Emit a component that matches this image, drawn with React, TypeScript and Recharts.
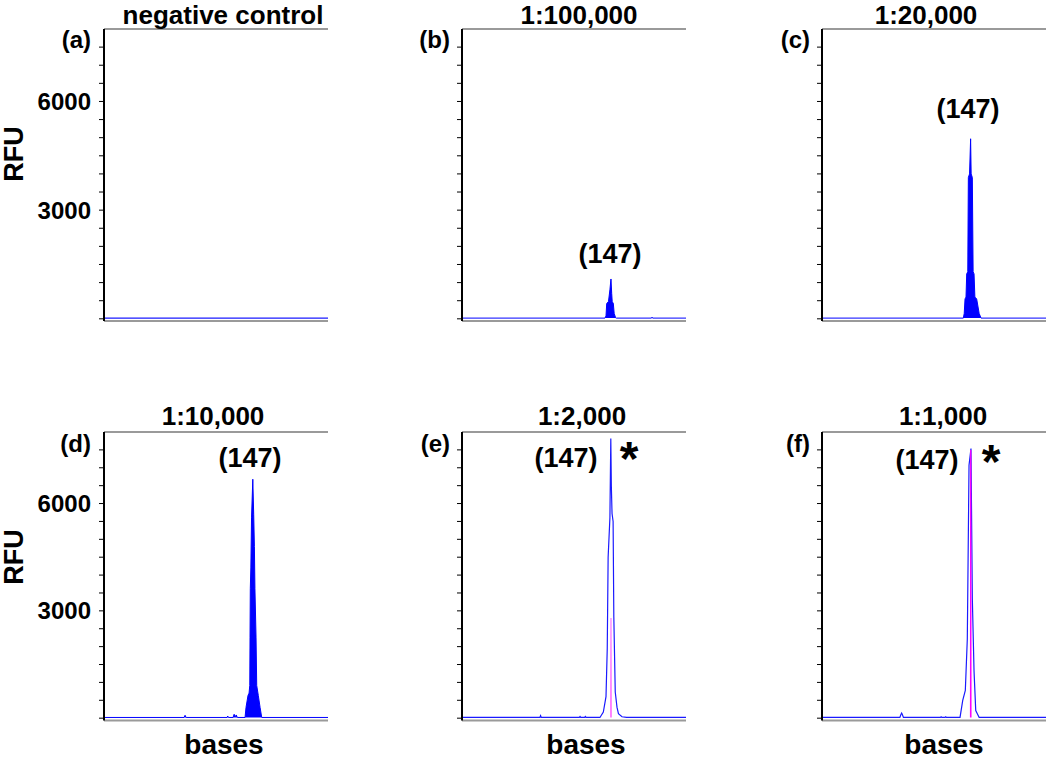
import { Area, ComposedChart, Line, XAxis, YAxis } from 'recharts'

// x axis is in bases, y axis in RFU
const BASE_DOMAIN = [105, 168]
const TOP_TICKS = [136.5, 168]
const RFU_TICKS = [0, 500, 1000, 1500, 2000, 2500, 3000, 3500, 4000, 4500, 5000, 5500, 6000, 6500, 7000, 7500]
const LABELED_TICKS = [3000, 6000]

const titles = ['negative control', '1:100,000', '1:20,000', '1:10,000', '1:2,000', '1:1,000']
const tags = ['(a)', '(b)', '(c)', '(d)', '(e)', '(f)']

// (a) negative control: flat baseline
const basesA = [105, 168]
const rfuA = [20, 20]

// (b) 1:100,000
const basesB = [105, 145.2, 145.5, 145.7, 146.0, 146.2, 146.6, 146.9, 147.1, 147.25, 147.55, 147.8, 148.2, 148.4, 158.3, 158.45, 158.6, 168]
const rfuB = [20, 20, 80, 420, 460, 480, 800, 1100, 700, 470, 430, 150, 30, 20, 20, 45, 20, 20]

// (c) 1:20,000
const basesC = [105, 144.75, 145.0, 145.23, 145.5, 145.7, 146.0, 146.16, 146.5, 146.8, 146.95, 147.28, 147.5, 147.76, 148.0, 148.5, 149.2, 149.73, 168]
const rfuC = [20, 20, 150, 550, 600, 1240, 1300, 3900, 4000, 4970, 4000, 3900, 1300, 1240, 600, 550, 150, 20, 20]

// (d) 1:10,000
const basesD = [105, 127.5, 127.8, 128.1, 139.6, 139.8, 140.0, 141.3, 141.6, 141.9, 142.2, 142.5, 144.67, 144.94, 145.5, 145.8, 146.0, 146.07, 146.15, 146.3, 146.5, 146.85, 147.1, 147.3, 147.45, 147.76, 147.95, 148.4, 148.9, 149.36, 168]
const rfuD = [20, 20, 80, 20, 20, 60, 20, 20, 110, 40, 90, 20, 20, 300, 635, 700, 915, 2265, 3620, 4200, 5620, 6680, 5700, 4800, 3620, 2265, 915, 635, 300, 20, 20]

// (e) 1:2,000
const basesE = [105, 126.9, 127.1, 127.3, 138.0, 138.2, 138.4, 139.5, 139.7, 139.9, 143.8, 144.75, 145.5, 145.85, 146.1, 146.6, 146.85, 147.0, 147.2, 147.5, 147.7, 148.1, 148.6, 149.0, 150.0, 151.3, 168]
const rfuE = [20, 20, 70, 20, 20, 45, 20, 20, 45, 20, 20, 170, 600, 1940, 4500, 5600, 7820, 6500, 5720, 5500, 2825, 730, 300, 125, 40, 20, 20]
const magentaBasesE = [146.8, 146.9, 147.0]
const magentaRfuE = [20, 2800, 20]

// (f) 1:1,000
const basesF = [105, 126.9, 127.2, 127.4, 127.6, 127.9, 138.3, 138.5, 138.7, 139.6, 139.8, 140.0, 143.82, 144.58, 145.31, 145.87, 146.35, 146.9, 147.28, 147.76, 148.24, 149.2, 168]
const rfuF = [20, 20, 100, 140, 100, 20, 20, 40, 20, 20, 40, 20, 20, 495, 775, 2220, 7070, 7540, 3340, 1315, 215, 20, 20]
const magentaBasesF = [146.78, 146.83, 146.88]
const magentaRfuF = [20, 7500, 20]

const zip = (xs: number[], ys: number[]) => xs.map((x, i) => ({ x, y: ys[i] }))

const FONT = '"Liberation Sans", Arial, sans-serif'
const PLOT_W = 224
const AXIS_W = 90

type PanelDef = {
  left: number
  top: number
  plotH: number
  ymin: number
  trace: { x: number; y: number }[]
  filled: boolean
  labels: boolean
  magenta?: { x: number; y: number }[]
  magentaColor?: string
  magentaOnTop?: boolean
}

const panels: PanelDef[] = [
  { left: 104, top: 28.5, plotH: 292, ymin: -60, trace: zip(basesA, rfuA), filled: false, labels: true },
  { left: 462, top: 28.5, plotH: 292, ymin: -60, trace: zip(basesB, rfuB), filled: true, labels: false },
  { left: 822, top: 28.5, plotH: 292, ymin: -60, trace: zip(basesC, rfuC), filled: true, labels: false },
  { left: 104, top: 431.5, plotH: 288.5, ymin: -65, trace: zip(basesD, rfuD), filled: true, labels: true },
  {
    left: 462, top: 431.5, plotH: 288.5, ymin: -65, trace: zip(basesE, rfuE), filled: false, labels: false,
    magenta: zip(magentaBasesE, magentaRfuE), magentaColor: '#ff80ff', magentaOnTop: false,
  },
  {
    left: 822, top: 431.5, plotH: 288.5, ymin: -65, trace: zip(basesF, rfuF), filled: false, labels: false,
    magenta: zip(magentaBasesF, magentaRfuF), magentaColor: '#ff00ff', magentaOnTop: true,
  },
]

function Panel({ p }: { p: PanelDef }) {
  const yDomain = [p.ymin, 8000]
  const magenta = p.magenta ? (
    <Line
      xAxisId="b"
      yAxisId="r"
      data={p.magenta}
      dataKey="y"
      type="linear"
      stroke={p.magentaColor}
      strokeWidth={1.3}
      dot={false}
      activeDot={false}
      isAnimationActive={false}
    />
  ) : null

  return (
    <div style={{ position: 'absolute', left: p.left - AXIS_W, top: p.top - 10 }}>
      <ComposedChart
        width={AXIS_W + PLOT_W + 8}
        height={10 + p.plotH + 6}
        data={p.trace}
        margin={{ top: 0, right: 8, bottom: 0, left: 0 }}
      >
        <XAxis
          xAxisId="b"
          dataKey="x"
          type="number"
          domain={BASE_DOMAIN}
          allowDataOverflow
          orientation="bottom"
          height={6}
          tick={false}
          tickLine={false}
          axisLine={{ stroke: '#9a9a9a', strokeWidth: 2 }}
        />
        <XAxis
          xAxisId="t"
          dataKey="x"
          type="number"
          domain={BASE_DOMAIN}
          allowDataOverflow
          orientation="top"
          height={10}
          ticks={TOP_TICKS}
          interval={0}
          tick={false}
          tickSize={3}
          tickLine={{ stroke: '#333' }}
          axisLine={{ stroke: '#9a9a9a', strokeWidth: 2 }}
        />
        <YAxis
          yAxisId="r"
          type="number"
          domain={yDomain}
          allowDataOverflow
          ticks={RFU_TICKS}
          interval={0}
          width={AXIS_W}
          tickSize={5}
          tickMargin={8}
          tickFormatter={(v: number) => (p.labels && LABELED_TICKS.includes(v) ? String(v) : '')}
          tick={{ fontSize: 24, fontWeight: 'bold', fill: '#000', fontFamily: FONT }}
          tickLine={{ stroke: '#000' }}
          axisLine={{ stroke: '#000', strokeWidth: 2 }}
        />
        <YAxis
          yAxisId="m"
          type="number"
          domain={yDomain}
          allowDataOverflow
          ticks={RFU_TICKS}
          interval={0}
          mirror
          width={0}
          tickSize={4}
          tick={false}
          tickLine={{ stroke: '#000' }}
          axisLine={false}
        />
        {!p.magentaOnTop && magenta}
        {p.filled ? (
          <Area
            xAxisId="b"
            yAxisId="r"
            dataKey="y"
            type="linear"
            stroke="#0000ff"
            strokeWidth={1}
            fill="#0000ff"
            fillOpacity={1}
            baseValue={20}
            dot={false}
            activeDot={false}
            isAnimationActive={false}
          />
        ) : (
          <Line
            xAxisId="b"
            yAxisId="r"
            dataKey="y"
            type="linear"
            stroke="#1a1aff"
            strokeWidth={1.2}
            dot={false}
            activeDot={false}
            isAnimationActive={false}
          />
        )}
        {p.magentaOnTop && magenta}
      </ComposedChart>
    </div>
  )
}

const titlePos = [
  [223, 24], [579, 24], [926, 24],
  [213, 425], [582, 425], [943, 425],
]
const tagPos = [
  [91, 48], [450, 48], [810, 48],
  [91, 452], [450, 452], [810, 452],
]
const peakLabelPos = [
  [610, 263], [968, 118], [250, 467], [566, 467], [927, 469],
]
const starPos = [
  [629, 475], [991, 478],
]
const basesPos = [224, 586, 944]

export default function App() {
  const txt = { fontFamily: FONT, fontWeight: 'bold' as const, fill: '#000' }
  return (
    <div style={{ position: 'absolute', left: 0, top: 0, width: 1050, height: 760, background: '#fff' }}>
      {panels.map((p, i) => (
        <Panel key={i} p={p} />
      ))}
      <svg width={1050} height={760} style={{ position: 'absolute', left: 0, top: 0, pointerEvents: 'none' }}>
        {titles.map((t, i) => (
          <text key={t} x={titlePos[i][0]} y={titlePos[i][1]} textAnchor="middle" fontSize={26} {...txt}>
            {t}
          </text>
        ))}
        {tags.map((t, i) => (
          <text key={t} x={tagPos[i][0]} y={tagPos[i][1]} textAnchor="end" fontSize={24} {...txt}>
            {t}
          </text>
        ))}
        {peakLabelPos.map(([x, y], i) => (
          <text key={i} x={x} y={y} textAnchor="middle" fontSize={27} {...txt}>
            (147)
          </text>
        ))}
        {starPos.map(([x, y], i) => (
          <text key={i} x={x} y={y} textAnchor="middle" fontSize={48} {...txt}>
            *
          </text>
        ))}
        {[154, 557].map((y) => (
          <text key={y} transform={`translate(23,${y}) rotate(-90)`} textAnchor="middle" fontSize={27} {...txt}>
            RFU
          </text>
        ))}
        {basesPos.map((x) => (
          <text key={x} x={x} y={754} textAnchor="middle" fontSize={28} {...txt}>
            bases
          </text>
        ))}
      </svg>
    </div>
  )
}
